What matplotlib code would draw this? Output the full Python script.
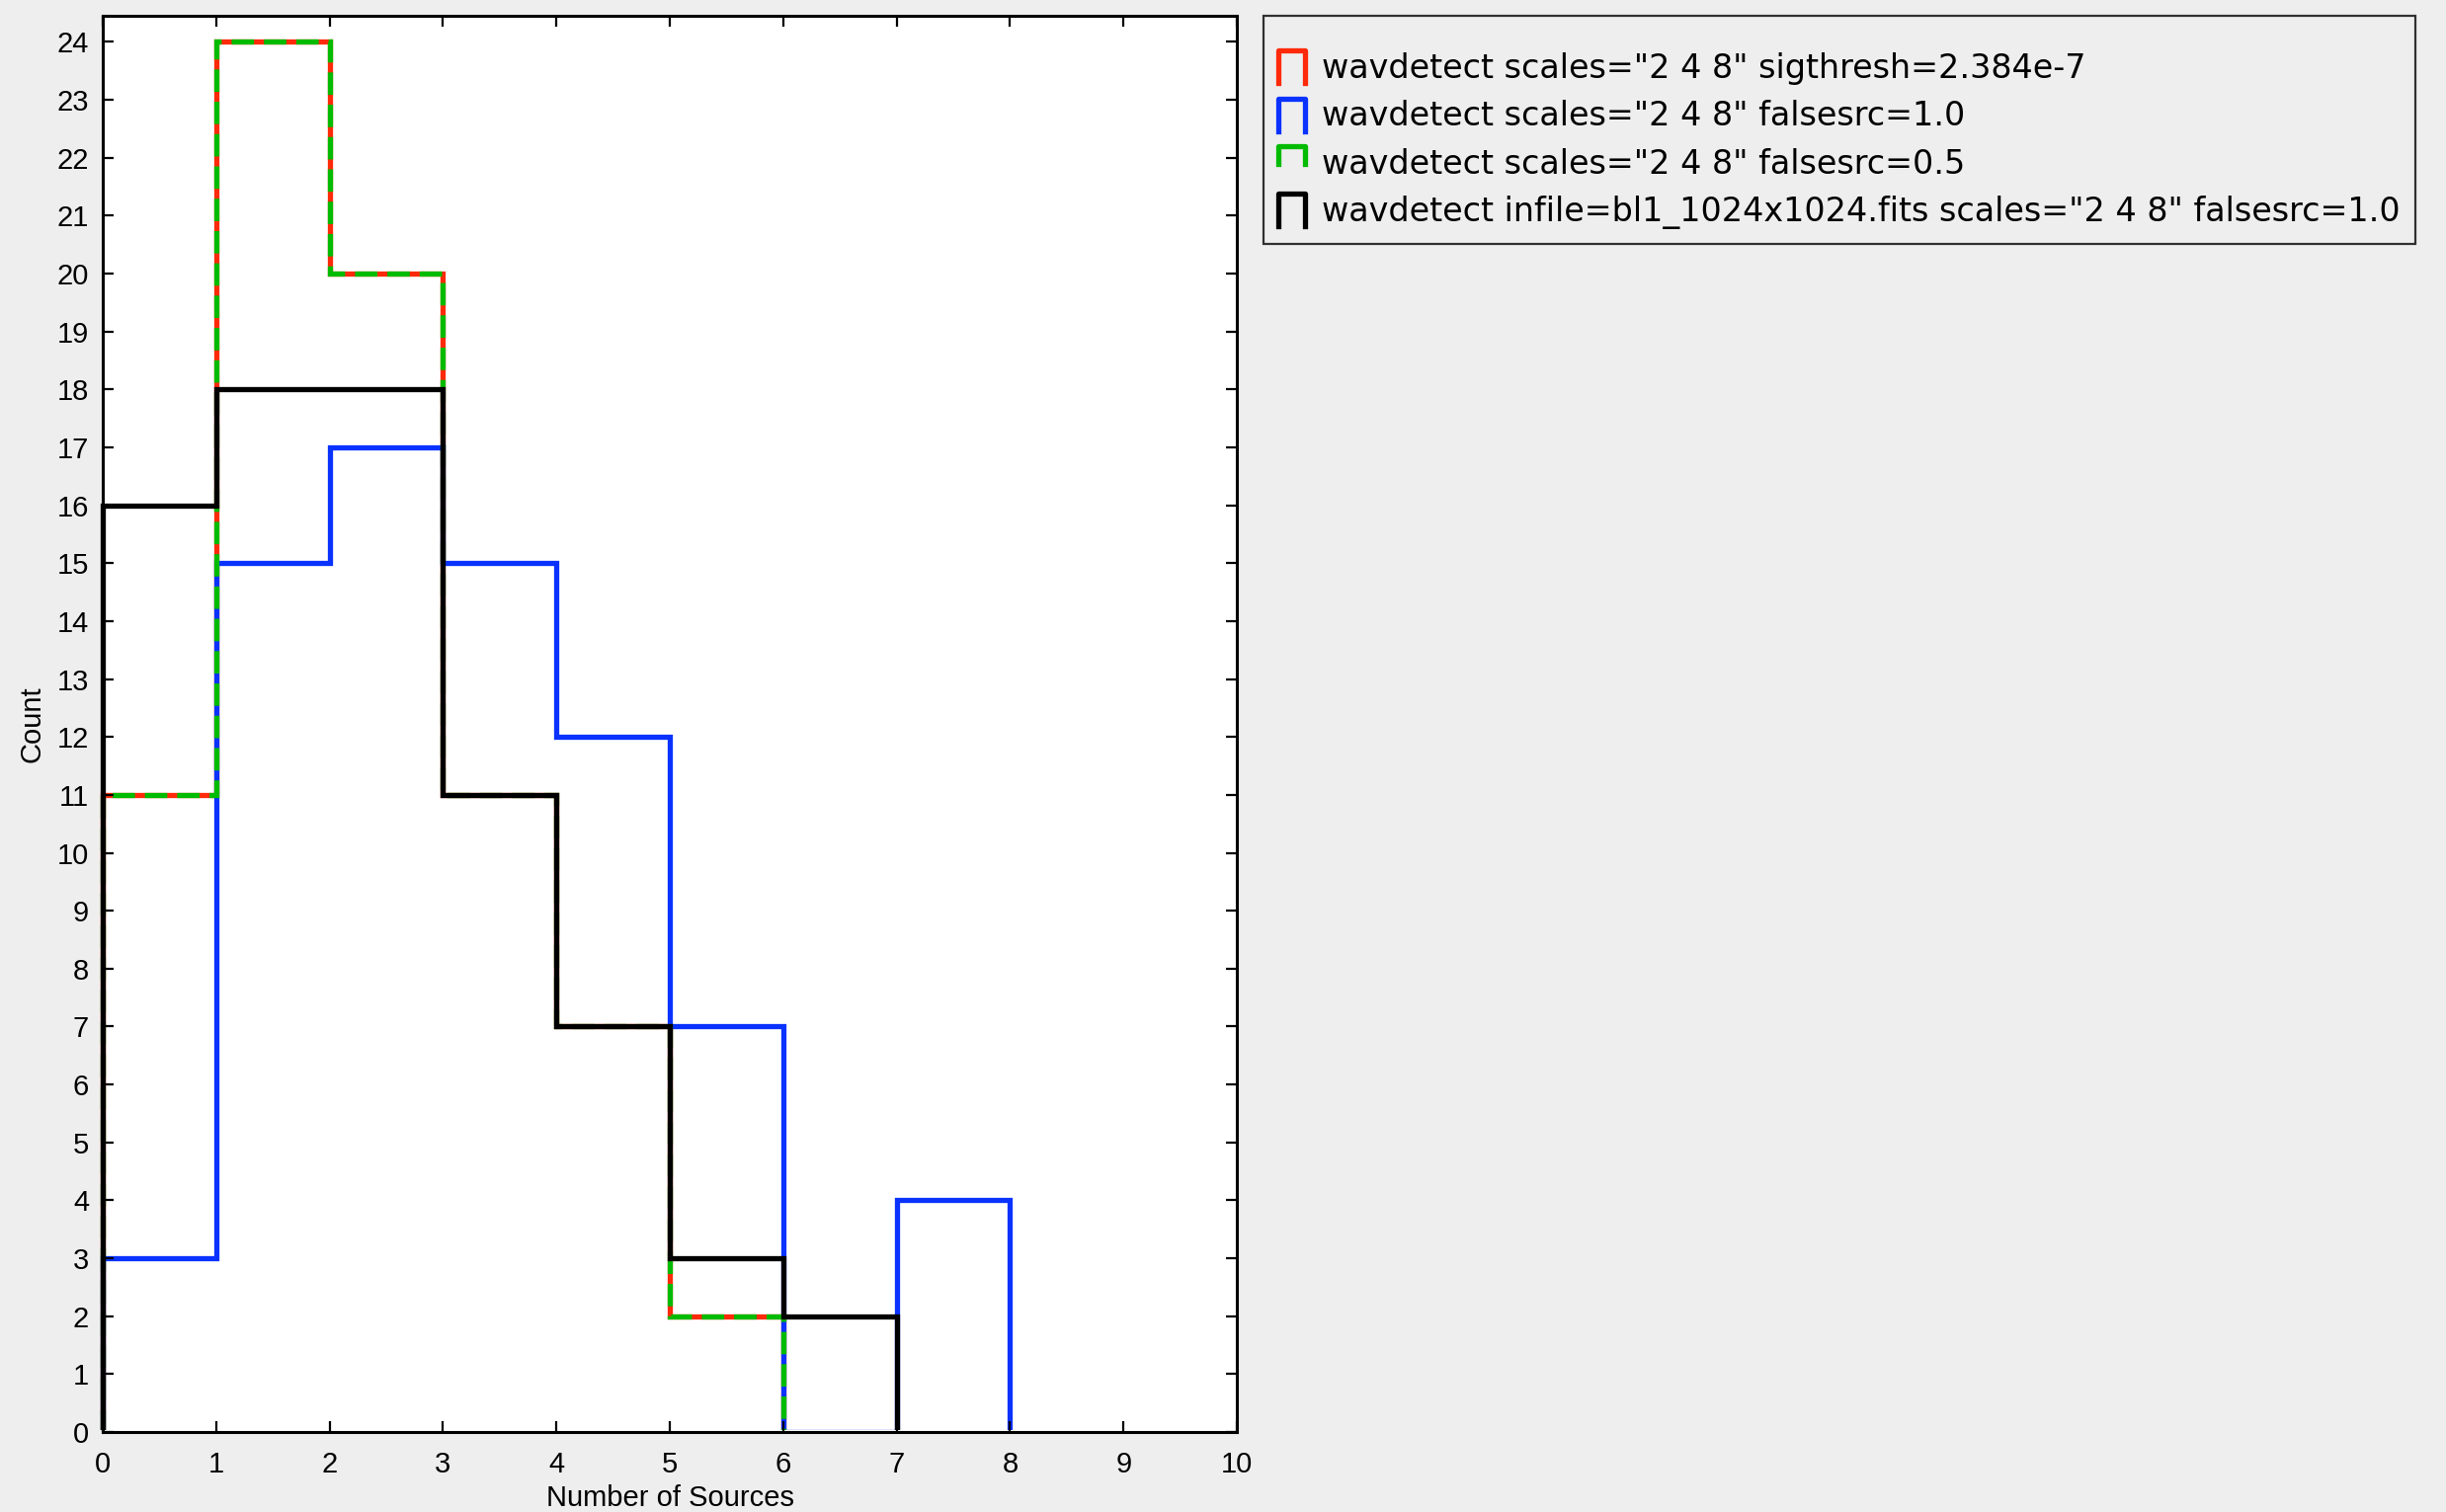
import numpy as np
import matplotlib
matplotlib.use('Agg')
import matplotlib.pyplot as plt
from matplotlib.lines import Line2D
from matplotlib.patches import Rectangle
from matplotlib.legend_handler import HandlerBase

plt.rcParams['font.family'] = ['Liberation Sans', 'DejaVu Sans']

# Histogram counts per bin (bin edges are integer numbers of sources)
sigthresh_counts = [11, 24, 20, 11, 7, 2]
falsesrc10_counts = [3, 15, 17, 15, 12, 7, 0, 4]
falsesrc05_counts = [11, 24, 20, 11, 7, 2]
bl1_counts = [16, 18, 18, 11, 7, 3, 2]

labels = [
    'wavdetect scales="2 4 8" sigthresh=2.384e-7',
    'wavdetect scales="2 4 8" falsesrc=1.0',
    'wavdetect scales="2 4 8" falsesrc=0.5',
    'wavdetect infile=bl1_1024x1024.fits scales="2 4 8" falsesrc=1.0',
]

RED = '#ff2a0a'
BLUE = '#0a32ff'
GREEN = '#00bb00'
BLACK = '#000000'
LW = 3.8
DASH = (0, (4.3, 1.9))


class StepHandler(HandlerBase):
    # small histogram-outline glyph for the legend
    def __init__(self, frac=1.0, **kw):
        super().__init__(**kw)
        self.frac = frac

    def create_artists(self, legend, orig_handle, xdescent, ydescent,
                       width, height, fontsize, trans):
        x0 = -xdescent
        x1 = x0 + width
        y1 = -ydescent + height
        y0 = y1 - height * self.frac
        line = Line2D([x0, x0, x1, x1], [y0, y1, y1, y0])
        self.update_prop(line, orig_handle, legend)
        line.set_linestyle('-')
        line.set_transform(trans)
        return [line]


fig = plt.figure(figsize=(24.76, 15.31), dpi=100, facecolor='#eeeeee')
ax = fig.add_axes([0.042, 0.0529, 0.4637, 0.9366])
ax.set_facecolor('white')

series = [
    (sigthresh_counts, RED, '-'),
    (falsesrc10_counts, BLUE, '-'),
    (falsesrc05_counts, GREEN, DASH),
    (bl1_counts, BLACK, '-'),
]
# keep empty bins off the bottom axis line
floor = Rectangle((-1, 0.035), 12, 30, transform=ax.transData)
for counts, color, ls in series:
    p = ax.stairs(counts, np.arange(len(counts) + 1), baseline=0,
                  color=color, lw=LW, linestyle=ls)
    p.set_clip_path(floor)

ax.set_xlim(0, 10)
ax.set_ylim(0, 24.45)
ax.set_xticks(range(0, 11))
ax.set_yticks(range(0, 25))
ax.tick_params(direction='in', length=8, width=1.6, top=True, right=True,
               labelsize=21)
ax.tick_params(axis='x', pad=14)
ax.tick_params(axis='y', pad=10)
for s in ax.spines.values():
    s.set_linewidth(2.2)
    s.set_zorder(3)

ax.set_xlabel('Number of Sources', fontsize=21, labelpad=4)
ax.set_ylabel('Count', fontsize=21, labelpad=8)

proxies = [
    Line2D([], [], color=RED, lw=LW),
    Line2D([], [], color=BLUE, lw=LW),
    Line2D([], [], color=GREEN, lw=LW, linestyle=DASH),
    Line2D([], [], color=BLACK, lw=LW),
]
hmap = {p: StepHandler() for p in proxies}
hmap[proxies[2]] = StepHandler(frac=0.55)
leg = fig.legend(proxies, labels, loc='upper left',
                 bbox_to_anchor=(0.5166, 0.9895),
                 prop={'family': 'DejaVu Sans', 'size': 24},
                 title=' ', title_fontsize=6,
                 handler_map=hmap,
                 handlelength=0.8, handleheight=1.15, handletextpad=0.52,
                 labelspacing=0.40, borderpad=0.45, borderaxespad=0,
                 fancybox=False, frameon=True)
leg.get_frame().set_facecolor('#eeeeee')
leg.get_frame().set_edgecolor('black')
leg.get_frame().set_linewidth(1.6)

fig.savefig('out.png', dpi=100, facecolor=fig.get_facecolor())
